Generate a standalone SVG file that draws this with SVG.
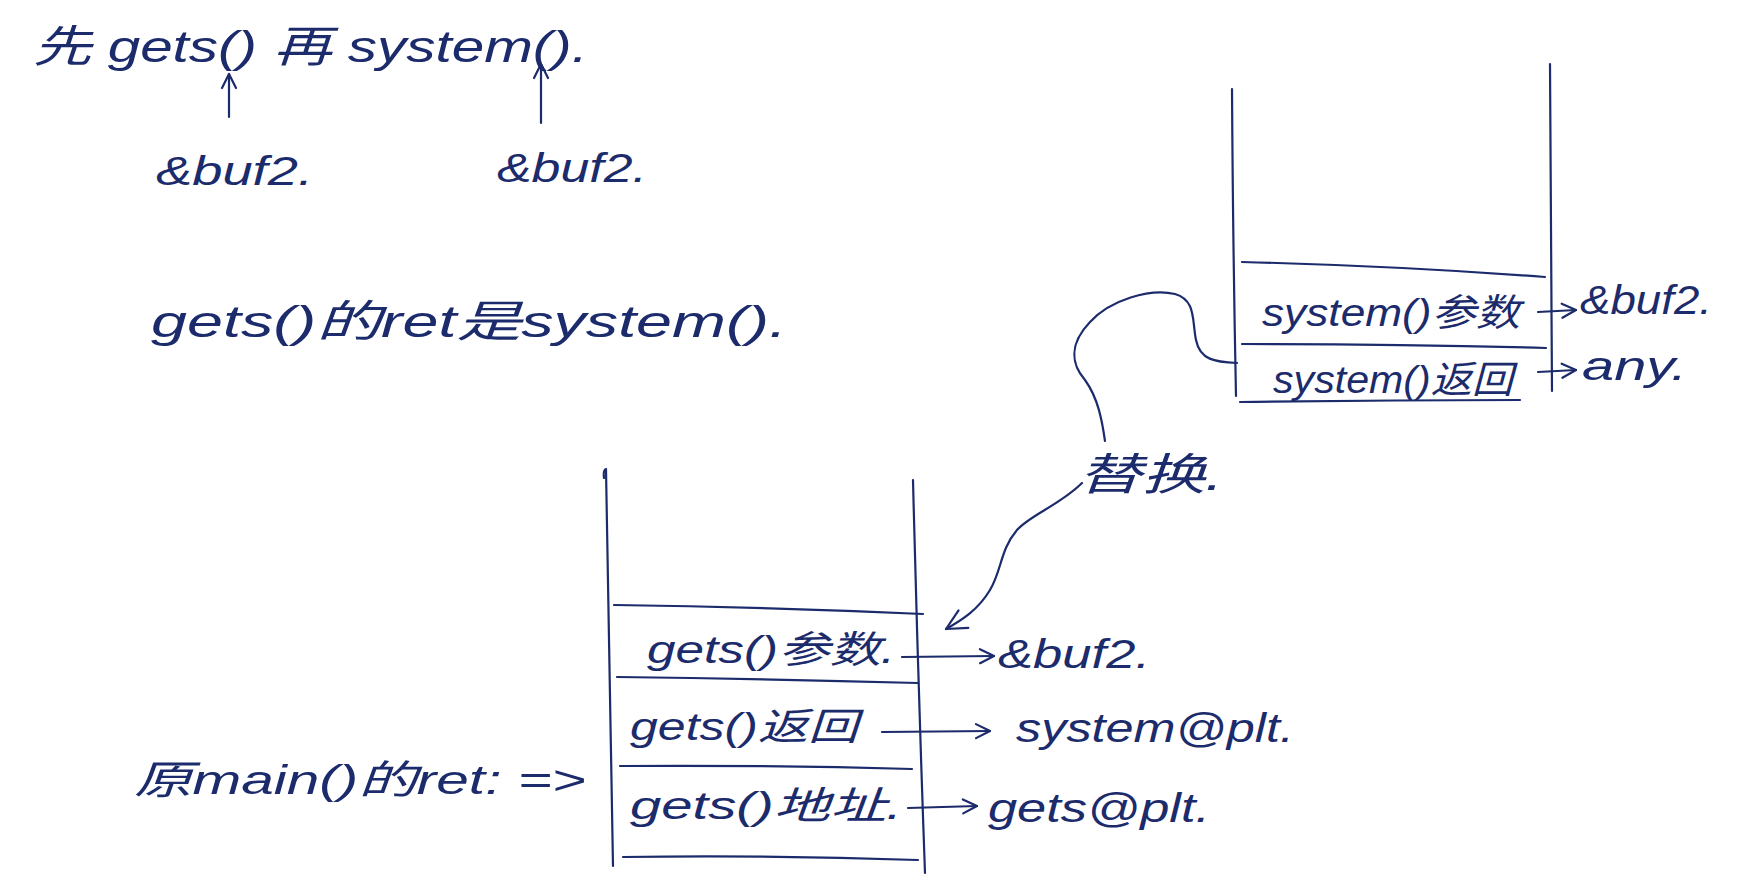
<svg xmlns="http://www.w3.org/2000/svg" width="1751" height="885" viewBox="0 0 1751 885">
<style>
  .ink { fill: #1c2b6b; font-family: "Liberation Sans", "Noto Sans CJK SC", sans-serif; font-style: italic; }
  .t44 { font-size: 44px; }
  .t40 { font-size: 40px; }
  .t38 { font-size: 38px; }
  .ln { fill: none; stroke: #1c2b6b; stroke-width: 2.2; stroke-linecap: round; stroke-linejoin: round; }
  .ar { fill: none; stroke: #1c2b6b; stroke-width: 2.2; stroke-linecap: round; stroke-linejoin: round; marker-end: url(#head); }
</style>
<defs>
  <marker id="head" viewBox="0 0 18 18" refX="16" refY="9" markerWidth="18" markerHeight="18" markerUnits="userSpaceOnUse" orient="auto">
    <path d="M2,2 L16,9 L2,16" fill="none" stroke="#1c2b6b" stroke-width="2.2" stroke-linecap="round" stroke-linejoin="round"/>
  </marker>
  <marker id="headBig" viewBox="0 0 24 24" refX="22" refY="12" markerWidth="24" markerHeight="24" markerUnits="userSpaceOnUse" orient="auto">
    <path d="M2,2 L22,12 L2,22" fill="none" stroke="#1c2b6b" stroke-width="2.2" stroke-linecap="round" stroke-linejoin="round"/>
  </marker>
</defs>
<rect width="1751" height="885" fill="#ffffff"/>

<g id="note-top">
  <text class="ink t44" x="33" y="62" textLength="555" lengthAdjust="spacingAndGlyphs">先 gets() 再 system().</text>
</g>
<g id="note-buf2-a">
  <text class="ink t40" x="156" y="185" textLength="157" lengthAdjust="spacingAndGlyphs">&amp;buf2.</text>
</g>
<g id="note-buf2-b">
  <text class="ink t40" x="497" y="182" textLength="150" lengthAdjust="spacingAndGlyphs">&amp;buf2.</text>
</g>
<g id="note-ret">
  <text class="ink t44" x="151" y="337" textLength="636" lengthAdjust="spacingAndGlyphs">gets()的ret是system().</text>
</g>

<g id="stack-right">
  <path class="ln" d="M1232,89 Q1233,250 1236,396"/>
  <path class="ln" d="M1550,64 Q1551,230 1552,391"/>
  <path class="ln" d="M1242,262 Q1400,266 1545,277"/>
  <path class="ln" d="M1242,344 Q1400,344 1546,348"/>
  <path class="ln" d="M1240,402 Q1380,400 1520,400"/>
  <g id="row-system-arg">
    <text class="ink t38" x="1262" y="326" textLength="258" lengthAdjust="spacingAndGlyphs">system()参数</text>
  </g>
  <g id="row-system-ret">
    <text class="ink t38" x="1273" y="393" textLength="240" lengthAdjust="spacingAndGlyphs">system()返回</text>
  </g>
</g>
<g id="val-right-buf2">
  <text class="ink t40" x="1580" y="314" textLength="132" lengthAdjust="spacingAndGlyphs">&amp;buf2.</text>
</g>
<g id="val-right-any">
  <text class="ink t40" x="1582" y="380" textLength="105" lengthAdjust="spacingAndGlyphs">any.</text>
</g>

<g id="stack-left">
  <path class="ln" d="M604,478 Q603,470 606,469 Q609,650 613,866"/>
  <path class="ln" d="M913,480 Q918,680 925,873"/>
  <path class="ln" d="M614,605 Q770,607 923,614"/>
  <path class="ln" d="M617,677 Q770,679 918,683"/>
  <path class="ln" d="M620,766 Q770,765 912,769"/>
  <path class="ln" d="M623,857 Q770,855 918,860"/>
  <g id="row-gets-arg">
    <text class="ink t38" x="647" y="663" textLength="248" lengthAdjust="spacingAndGlyphs">gets()参数.</text>
  </g>
  <g id="row-gets-ret">
    <text class="ink t38" x="630" y="740" textLength="228" lengthAdjust="spacingAndGlyphs">gets()返回</text>
  </g>
  <g id="row-gets-addr">
    <text class="ink t38" x="630" y="819" textLength="272" lengthAdjust="spacingAndGlyphs">gets()地址.</text>
  </g>
</g>
<g id="val-left-buf2">
  <text class="ink t40" x="998" y="668" textLength="152" lengthAdjust="spacingAndGlyphs">&amp;buf2.</text>
</g>
<g id="val-left-systemplt">
  <text class="ink t40" x="1016" y="742" textLength="278" lengthAdjust="spacingAndGlyphs">system@plt.</text>
</g>
<g id="val-left-getsplt">
  <text class="ink t40" x="988" y="822" textLength="222" lengthAdjust="spacingAndGlyphs">gets@plt.</text>
</g>

<g id="note-main-ret">
  <text class="ink t40" x="134" y="794" textLength="452" lengthAdjust="spacingAndGlyphs">原main()的ret: =&gt;</text>
</g>
<g id="note-replace">
  <text class="ink t44" x="1078" y="490" textLength="145" lengthAdjust="spacingAndGlyphs">替换.</text>
</g>

<g id="connectors">
  <path class="ar" d="M229,117 L229,74"/>
  <path class="ar" d="M541,123 L541,64"/>
  <path class="ar" d="M1538,312 L1576,310"/>
  <path class="ar" d="M1538,372 L1576,370"/>
  <path class="ar" d="M902,657 L994,656"/>
  <path class="ar" d="M882,732 L990,731"/>
  <path class="ar" d="M908,808 L977,806"/>
  <path class="ln" d="M1237,363 C1215,362 1200,360 1196,340 C1192,320 1196,300 1175,294 C1150,288 1110,300 1090,322 C1068,345 1072,365 1085,380 C1098,398 1102,420 1105,441"/>
  <path class="ar" style="marker-end:url(#headBig)" d="M1082,483 C1060,505 1030,515 1017,530 C1000,550 1002,570 990,590 C978,610 962,620 946,629"/>
</g>
</svg>
